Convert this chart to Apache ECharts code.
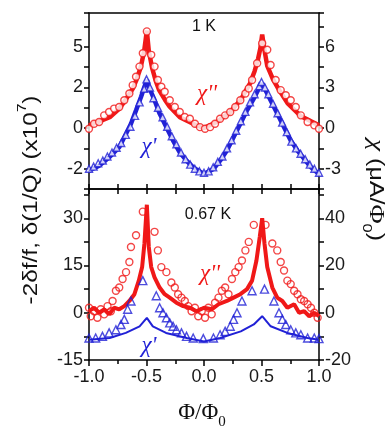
<!DOCTYPE html>
<html><head><meta charset="utf-8">
<script src="https://cdn.jsdelivr.net/npm/echarts@6/dist/echarts.min.js"></script>
<style>html,body{margin:0;padding:0;background:#fff}#c{width:390px;height:430px}</style>
</head><body><div id="c"></div>
<script>
// ---------- tick labels ----------
const xTickLabels = ['-1.0','-0.5','0.0','0.5','1.0'];
const topTickValues = [-3, 0, 3, 6];
const topLeftTickLabels = ['-2', '0', '2', '5'];
const topRightTickLabels = ['-3', '0', '3', '6'];
const bottomLeftTickValues = [-15, 0, 15, 30];
const bottomRightTickValues = [-20, 0, 20, 40];

// ---------- top panel (1 K) ----------
const topRedLineX = [-1, -0.91, -0.82, -0.74, -0.68, -0.62, -0.59, -0.55, -0.52, -0.497, -0.48, -0.45, -0.42, -0.39, -0.34, -0.3, -0.21, -0.09, 0, 0.11, 0.23, 0.32, 0.4, 0.44, 0.47, 0.49, 0.506, 0.525, 0.55, 0.6, 0.64, 0.73, 0.84, 0.93, 1];
const topRedLineY = [0.2, 0.5, 0.8, 1.4, 2.1, 2.9, 3.5, 4.5, 5.7, 7.2, 5.7, 4.4, 3.5, 2.8, 2.1, 1.6, 0.8, 0.3, 0, 0.45, 1.2, 2.1, 3.3, 4.2, 5.1, 5.9, 6.9, 5.8, 4.6, 3.6, 3.0, 1.8, 0.9, 0.5, 0.2];
const topRedDotsX = [-1.0, -0.956, -0.912, -0.868, -0.825, -0.781, -0.737, -0.693, -0.649, -0.62, -0.591, -0.561, -0.532, -0.497, -0.459, -0.43, -0.401, -0.371, -0.342, -0.298, -0.254, -0.211, -0.167, -0.123, -0.079, -0.035, 0.009, 0.053, 0.096, 0.14, 0.184, 0.228, 0.272, 0.316, 0.36, 0.389, 0.418, 0.462, 0.506, 0.55, 0.579, 0.623, 0.667, 0.711, 0.754, 0.798, 0.842, 0.901, 0.959, 1.0];
const topRedDotsY = [-0.05, 0.32, 0.45, 0.94, 1.19, 1.44, 1.56, 2.06, 2.55, 3.17, 3.79, 4.54, 5.53, 7.14, 5.41, 4.54, 3.55, 3.05, 2.68, 2.06, 1.56, 1.19, 0.82, 0.69, 0.32, 0.07, -0.05, 0.07, 0.32, 0.69, 0.94, 1.19, 1.56, 2.06, 2.55, 2.93, 3.55, 4.79, 6.27, 5.78, 4.66, 3.55, 2.8, 2.43, 2.06, 1.56, 0.94, 0.45, 0.2, -0.05];
const topBlueLineX = [-1, -0.912, -0.825, -0.737, -0.678, -0.635, -0.591, -0.547, -0.518, -0.497, -0.474, -0.43, -0.386, -0.327, -0.269, -0.211, -0.152, -0.094, 0, 0.082, 0.14, 0.199, 0.257, 0.316, 0.374, 0.433, 0.477, 0.506, 0.535, 0.579, 0.637, 0.696, 0.754, 0.813, 0.871, 0.93, 1.0];
const topBlueLineY = [-3.15, -2.78, -2.16, -1.41, -0.42, 0.32, 1.31, 2.31, 3.05, 3.55, 2.93, 2.06, 1.07, 0.07, -0.92, -1.79, -2.41, -2.9, -3.4, -3.03, -2.41, -1.66, -0.67, 0.32, 1.31, 2.18, 2.93, 3.3, 2.8, 2.06, 1.07, 0.07, -0.92, -1.66, -2.28, -2.9, -3.4];
const topBlueDotsX = [-1.0, -0.96, -0.92, -0.88, -0.84, -0.8, -0.76, -0.72, -0.68, -0.64, -0.6, -0.56, -0.52, -0.5, -0.47, -0.44, -0.4, -0.36, -0.32, -0.28, -0.24, -0.2, -0.16, -0.12, -0.08, -0.04, 0.0, 0.04, 0.08, 0.12, 0.16, 0.2, 0.24, 0.28, 0.32, 0.36, 0.4, 0.44, 0.48, 0.5, 0.53, 0.56, 0.6, 0.64, 0.68, 0.72, 0.76, 0.8, 0.84, 0.88, 0.92, 0.96, 1.0];
const topBlueDotsY = [-3.0, -2.85, -2.6, -2.4, -2.1, -1.8, -1.45, -1.1, -0.5, 0.1, 0.9, 1.9, 2.9, 3.6, 3.0, 2.2, 1.5, 0.8, 0.1, -0.6, -1.2, -1.8, -2.3, -2.7, -3.0, -3.2, -3.3, -3.2, -2.9, -2.5, -2.1, -1.5, -0.9, -0.2, 0.5, 1.2, 1.9, 2.5, 3.1, 3.4, 3.0, 2.5, 1.8, 1.1, 0.4, -0.3, -1.0, -1.5, -1.9, -2.3, -2.7, -3.0, -3.3];

// ---------- bottom panel (0.67 K) ----------
const botRedLineX = [-1, -0.956, -0.912, -0.868, -0.825, -0.781, -0.737, -0.693, -0.649, -0.605, -0.567, -0.538, -0.518, -0.497, -0.48, -0.459, -0.43, -0.386, -0.342, -0.298, -0.24, -0.181, -0.123, -0.064, 0, 0.067, 0.126, 0.199, 0.257, 0.316, 0.374, 0.418, 0.456, 0.485, 0.506, 0.526, 0.55, 0.594, 0.637, 0.681, 0.725, 0.784, 0.827, 0.871, 0.915, 0.959, 1.0];
const botRedLineY = [0.5, 1.6, 0, 1.1, -0.5, 1.6, 1.1, 2.1, 3.75, 5.9, 10.2, 14.5, 22, 34.3, 20.9, 14.5, 11.25, 8.0, 5.9, 4.8, 3.2, 2.1, 1.6, 0.5, 1.6, 1.1, 2.7, 3.75, 4.8, 5.9, 7.5, 10.2, 16.6, 24.1, 30, 22, 14.5, 8.0, 4.8, 3.75, 1.6, 2.7, 0, 0.5, -1.1, 0, -1.1];
const botRedDotsX = [-1.0, -0.985, -0.956, -0.927, -0.898, -0.868, -0.839, -0.81, -0.795, -0.766, -0.737, -0.708, -0.678, -0.649, -0.635, -0.591, -0.532, -0.43, -0.401, -0.371, -0.327, -0.284, -0.254, -0.225, -0.196, -0.167, -0.137, -0.108, -0.079, -0.05, -0.02, 0.009, 0.038, 0.067, 0.096, 0.126, 0.155, 0.184, 0.213, 0.243, 0.272, 0.301, 0.33, 0.36, 0.389, 0.433, 0.535, 0.594, 0.637, 0.667, 0.696, 0.725, 0.754, 0.784, 0.813, 0.842, 0.871, 0.901, 0.93, 0.959, 0.988];
const botRedDotsY = [1.6, -1.1, 0.5, -1.6, 1.1, -0.5, 2.1, 0.5, 3.75, 7.0, 8.0, 10.7, 12.9, 16.1, 20.9, 24.6, 32.1, 25.7, 19.8, 14.5, 12.9, 9.6, 8.0, 5.9, 4.8, 3.75, 2.1, 0.5, 1.6, -1.1, 0.5, -1.6, 1.6, -0.5, 3.2, 4.8, 7.0, 8.0, 5.9, 10.7, 12.9, 14.5, 16.6, 19.8, 22.5, 27.9, 27.9, 22, 19.8, 16.1, 13.4, 10.2, 9.1, 7.0, 5.9, 4.3, 3.75, 2.7, 1.6, 0, -1.6];
const botBlueLineX = [-1, -0.82, -0.68, -0.56, -0.497, -0.445, -0.33, -0.15, 0, 0.14, 0.32, 0.433, 0.506, 0.58, 0.725, 0.9, 1];
const botBlueLineY = [-8.6, -8.0, -6.4, -4.3, -1.6, -4.3, -6.4, -8.0, -9.1, -8.0, -5.9, -3.7, -1.1, -4.3, -6.4, -8.0, -8.6];
const botBlueDotsX = [-1, -0.942, -0.883, -0.825, -0.766, -0.722, -0.693, -0.664, -0.635, -0.532, -0.415, -0.386, -0.357, -0.327, -0.298, -0.269, -0.24, -0.196, -0.152, -0.094, -0.006, 0.082, 0.14, 0.184, 0.228, 0.257, 0.287, 0.33, 0.418, 0.526, 0.608, 0.652, 0.681, 0.711, 0.754, 0.798, 0.842, 0.901, 0.959, 1.0];
const botBlueDotsY = [-8.0, -8.0, -7.5, -6.4, -5.4, -3.75, -2.1, 1.1, 3.75, 10.2, 5.4, 1.6, 0, -1.6, -3.2, -4.3, -5.4, -6.4, -7.5, -8.0, -8.2, -8.0, -7.0, -5.9, -4.3, -2.1, 0, 3.75, 7.0, 7.5, 3.75, 0, -2.1, -3.75, -5.4, -6.4, -7.0, -8.0, -8.0, -8.2];

const RED = '#f01818';
const BLUE = '#2121d6';
const zip = (xs, ys) => xs.map((x, i) => [x, ys[i]]);
const near = (a, b) => Math.abs(a - b) < 1e-6;
const pick = (vals, labels) => v => { const i = vals.findIndex(t => near(t, v)); return i >= 0 ? labels[i] : ''; };

const axLine = {show: true, onZero: false, lineStyle: {color: '#000', width: 1.5}};
const tickLbl = {fontSize: 18, color: '#1a1a1a', fontFamily: 'Liberation Sans, Arial, sans-serif'};
const CHI_FONT = 'Liberation Serif, serif';

const chiText = (x, y, text, fill) => ({type: 'text', x: x, y: y, z: 10,
  style: {text: text, fontSize: 23, fontStyle: 'italic', fontFamily: CHI_FONT, fill: fill, align: 'center', verticalAlign: 'middle'}});

const chart = echarts.init(document.getElementById('c'), null, {renderer: 'canvas'});
chart.setOption({
  backgroundColor: '#fff',
  animation: false,
  grid: [
    {left: 89, right: 71, top: 13, height: 176},
    {left: 89, right: 71, top: 189, height: 171}
  ],
  xAxis: [
    {gridIndex: 0, type: 'value', position: 'bottom', min: -1, max: 1, interval: 0.25,
     axisLine: axLine, axisTick: {show: true, inside: true, length: 5, lineStyle: {color: '#000', width: 1.5}},
     axisLabel: {show: false}, splitLine: {show: false}},
    {gridIndex: 0, type: 'value', position: 'top', min: -1, max: 1, interval: 0.25,
     axisLine: axLine, axisTick: {show: false}, axisLabel: {show: false}, splitLine: {show: false}},
    {gridIndex: 1, type: 'value', position: 'bottom', min: -1, max: 1, interval: 0.5,
     axisLine: axLine, axisTick: {show: true, length: 6, lineStyle: {color: '#000', width: 1.5}},
     minorTick: {show: true, splitNumber: 2, length: 4, lineStyle: {color: '#000', width: 1.5}},
     axisLabel: Object.assign({margin: 8, formatter: v => xTickLabels[Math.round((v + 1) / 0.5)] || ''}, tickLbl),
     splitLine: {show: false}, minorSplitLine: {show: false}},
    {gridIndex: 1, type: 'value', position: 'top', min: -1, max: 1, interval: 0.25,
     axisLine: axLine, axisTick: {show: true, inside: true, length: 5, lineStyle: {color: '#000', width: 1.5}},
     axisLabel: {show: false}, splitLine: {show: false}}
  ],
  yAxis: [
    {gridIndex: 0, type: 'value', position: 'left', min: -4.5, max: 8.5, interval: 1.5,
     axisLine: axLine, axisTick: {show: true, length: 5, lineStyle: {color: '#000', width: 1.5}},
     axisLabel: Object.assign({margin: 6, formatter: pick(topTickValues, topLeftTickLabels)}, tickLbl),
     splitLine: {show: false}},
    {gridIndex: 0, type: 'value', position: 'right', min: -4.5, max: 8.5, interval: 1.5,
     axisLine: axLine, axisTick: {show: true, length: 5, lineStyle: {color: '#000', width: 1.5}},
     axisLabel: Object.assign({margin: 6, formatter: pick(topTickValues, topRightTickLabels)}, tickLbl),
     splitLine: {show: false}},
    {gridIndex: 1, type: 'value', position: 'left', min: -15, max: 39.3, interval: 7.5,
     axisLine: axLine, axisTick: {show: true, length: 5, lineStyle: {color: '#000', width: 1.5}},
     axisLabel: Object.assign({margin: 6, formatter: pick(bottomLeftTickValues, bottomLeftTickValues.map(String))}, tickLbl),
     splitLine: {show: false}},
    {gridIndex: 1, type: 'value', position: 'right', min: -20, max: 52.4, interval: 10,
     axisLine: axLine, axisTick: {show: true, length: 5, lineStyle: {color: '#000', width: 1.5}},
     axisLabel: Object.assign({margin: 6, formatter: pick(bottomRightTickValues, bottomRightTickValues.map(String))}, tickLbl),
     splitLine: {show: false}}
  ],
  series: [
    {type: 'line', xAxisIndex: 0, yAxisIndex: 0, data: zip(topRedLineX, topRedLineY), showSymbol: false,
     lineStyle: {color: RED, width: 4.5}, z: 2},
    {type: 'line', xAxisIndex: 0, yAxisIndex: 0, data: zip(topBlueLineX, topBlueLineY), showSymbol: false,
     lineStyle: {color: BLUE, width: 4.5}, z: 2},
    {type: 'scatter', xAxisIndex: 0, yAxisIndex: 0, data: zip(topRedDotsX, topRedDotsY), symbol: 'circle', symbolSize: 7,
     itemStyle: {color: '#fff', borderColor: RED, borderWidth: 1.4}, z: 3},
    {type: 'scatter', xAxisIndex: 0, yAxisIndex: 0, data: zip(topBlueDotsX, topBlueDotsY), symbol: 'triangle', symbolSize: 7,
     itemStyle: {color: '#fff', borderColor: BLUE, borderWidth: 1.4}, z: 3},
    {type: 'line', xAxisIndex: 2, yAxisIndex: 2, data: zip(botRedLineX, botRedLineY), showSymbol: false,
     lineStyle: {color: RED, width: 4}, z: 2},
    {type: 'line', xAxisIndex: 2, yAxisIndex: 2, data: zip(botBlueLineX, botBlueLineY), showSymbol: false,
     lineStyle: {color: BLUE, width: 2}, z: 2},
    {type: 'scatter', xAxisIndex: 2, yAxisIndex: 2, data: zip(botRedDotsX, botRedDotsY), symbol: 'circle', symbolSize: 7,
     itemStyle: {color: 'rgba(255,255,255,0)', borderColor: RED, borderWidth: 1.4}, z: 3},
    {type: 'scatter', xAxisIndex: 2, yAxisIndex: 2, data: zip(botBlueDotsX, botBlueDotsY), symbol: 'triangle', symbolSize: 8,
     itemStyle: {color: 'rgba(255,255,255,0)', borderColor: BLUE, borderWidth: 1.4}, z: 3}
  ],
  graphic: [
    {type: 'text', x: 204, y: 27, z: 10, style: {text: '1 K', fontSize: 16, fontFamily: 'Liberation Sans, Arial', fill: '#111', align: 'center', verticalAlign: 'middle'}},
    {type: 'text', x: 208, y: 215, z: 10, style: {text: '0.67 K', fontSize: 16, fontFamily: 'Liberation Sans, Arial', fill: '#111', align: 'center', verticalAlign: 'middle'}},
    chiText(207, 94, "χ''", RED),
    chiText(210, 274, "χ''", RED),
    chiText(149, 147, "χ'", BLUE),
    chiText(149, 346, "χ'", BLUE),
    {type: 'text', x: 31, y: 200, rotation: Math.PI / 2, scaleX: 1.16, z: 10,
     style: {text: '{a|-2δf/f, δ(1/Q) (x10}{s|7}{a|)}', align: 'center', verticalAlign: 'middle', fill: '#111',
       rich: {a: {fontSize: 21, fontFamily: 'Liberation Sans, Arial', lineHeight: 30, fill: '#111'},
              s: {fontSize: 13, fontFamily: 'Liberation Sans, Arial', lineHeight: 14, verticalAlign: 'top', fill: '#111'}}}},
    {type: 'text', x: 376, y: 190, rotation: -Math.PI / 2, scaleX: 1.25, z: 10,
     style: {text: '{g|χ}{a| (μA/}{p|Φ}{s|0}{a|)}', align: 'center', verticalAlign: 'middle', fill: '#111',
       rich: {a: {fontSize: 20, fontFamily: 'Liberation Sans, Arial', lineHeight: 32, fill: '#111'},
              g: {fontSize: 22, fontStyle: 'italic', fontFamily: CHI_FONT, lineHeight: 32, fill: '#111'},
              p: {fontSize: 21, fontFamily: CHI_FONT, lineHeight: 32, fill: '#111'},
              s: {fontSize: 13, fontFamily: 'Liberation Sans, Arial', lineHeight: 14, verticalAlign: 'bottom', fill: '#111'}}}},
    {type: 'text', x: 202, y: 413, z: 10,
     style: {text: '{a|Φ/Φ}{s|0}', align: 'center', verticalAlign: 'middle', fill: '#111',
       rich: {a: {fontSize: 23, fontFamily: 'Liberation Serif, serif', lineHeight: 34, fill: '#111'},
              s: {fontSize: 15, fontFamily: 'Liberation Serif, serif', lineHeight: 15, verticalAlign: 'bottom', fill: '#111'}}}}
  ]
});
</script>
</body></html>
